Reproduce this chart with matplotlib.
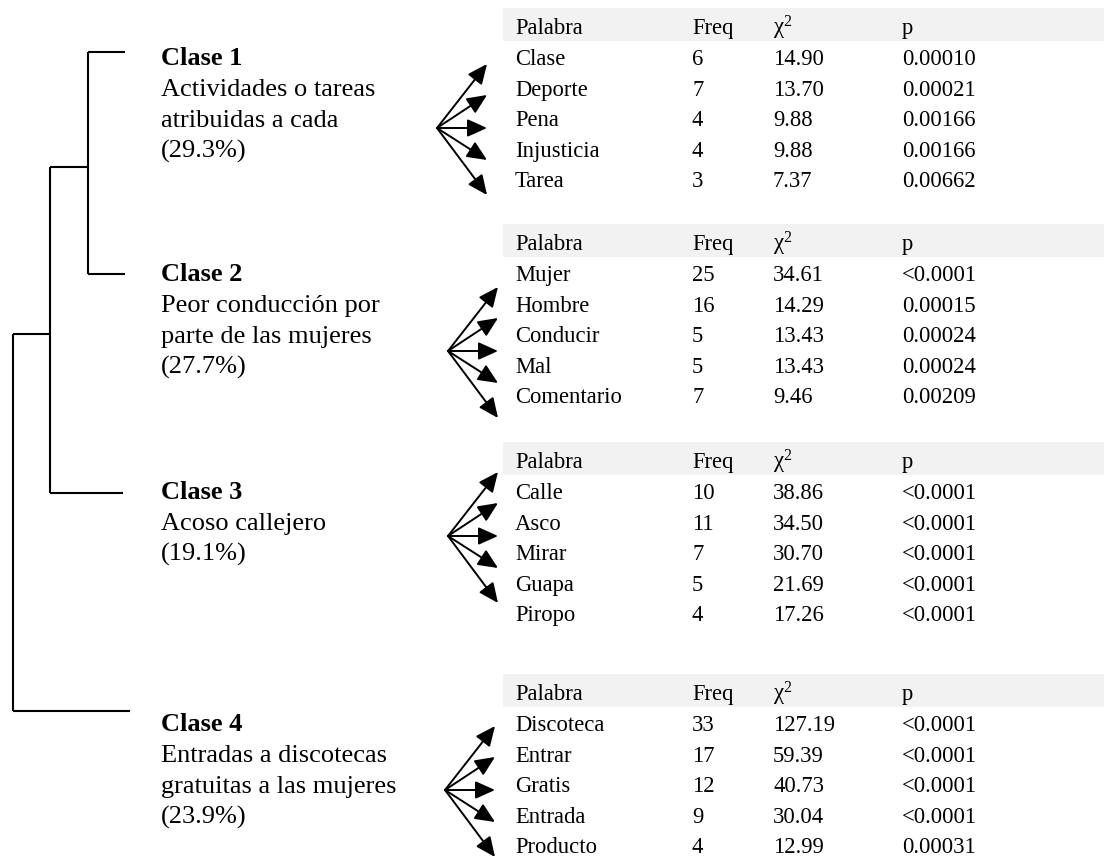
import matplotlib.pyplot as plt
from matplotlib.patches import Rectangle, FancyArrowPatch

plt.rcParams['font.family'] = ['Liberation Serif', 'DejaVu Serif']
plt.rcParams['mathtext.fontset'] = 'custom'
plt.rcParams['mathtext.rm'] = 'Liberation Serif'
plt.rcParams['mathtext.it'] = 'Liberation Serif:italic'

# class descriptions
class_titles = ['Clase 1', 'Clase 2', 'Clase 3', 'Clase 4']
class_lines = [
    ['Actividades o tareas', 'atribuidas a cada', '(29.3%)'],
    ['Peor conducción por', 'parte de las mujeres', '(27.7%)'],
    ['Acoso callejero', '(19.1%)'],
    ['Entradas a discotecas', 'gratuitas a las mujeres', '(23.9%)'],
]

# word tables per class
header = ['Palabra', 'Freq', r'$\mathrm{χ}^{2}$', 'p']
words = [
    ['Clase', 'Deporte', 'Pena', 'Injusticia', 'Tarea'],
    ['Mujer', 'Hombre', 'Conducir', 'Mal', 'Comentario'],
    ['Calle', 'Asco', 'Mirar', 'Guapa', 'Piropo'],
    ['Discoteca', 'Entrar', 'Gratis', 'Entrada', 'Producto'],
]
freq = [
    [6, 7, 4, 4, 3],
    [25, 16, 5, 5, 7],
    [10, 11, 7, 5, 4],
    [33, 17, 12, 9, 4],
]
chi2 = [
    [14.90, 13.70, 9.88, 9.88, 7.37],
    [34.61, 14.29, 13.43, 13.43, 9.46],
    [38.86, 34.50, 30.70, 21.69, 17.26],
    [127.19, 59.39, 40.73, 30.04, 12.99],
]
pvals = [
    ['0.00010', '0.00021', '0.00166', '0.00166', '0.00662'],
    ['<0.0001', '0.00015', '0.00024', '0.00024', '0.00209'],
    ['<0.0001', '<0.0001', '<0.0001', '<0.0001', '<0.0001'],
    ['<0.0001', '<0.0001', '<0.0001', '<0.0001', '0.00031'],
]

# layout (pixel space)
W, H = 1104, 859
label_base = [65, 281, 499, 731]
label_x = 161
line_gap = 31
row_gap = 30.6
col_x = [515, 692, 773, 902]
fan_origin = [(437, 128), (448, 351), (448, 536), (445, 790)]
fan_dy = [-64, -33, 0, 32, 67]
fan_dx = 50

fig = plt.figure(figsize=(W / 100, H / 100), dpi=100)
ax = fig.add_axes([0, 0, 1, 1])
ax.set_xlim(0, W)
ax.set_ylim(H, 0)
ax.axis('off')

# dendrogram
leaf_y = [52, 274, 493, 711]
lw = 1.5
def seg(x0, y0, x1, y1):
    ax.plot([x0, x1], [y0, y1], color='black', lw=lw, solid_capstyle='butt')

j12 = (leaf_y[0] + leaf_y[1]) / 2 + 4
j123 = (j12 + leaf_y[2]) / 2 + 4
seg(88, leaf_y[0], 125, leaf_y[0])
seg(88, leaf_y[1], 125, leaf_y[1])
seg(88, leaf_y[0], 88, leaf_y[1])
seg(50, j12, 88, j12)
seg(50, leaf_y[2], 123, leaf_y[2])
seg(50, j12, 50, leaf_y[2])
seg(13, j123, 50, j123)
seg(13, leaf_y[3], 130, leaf_y[3])
seg(13, j123, 13, leaf_y[3])

for k in range(4):
    b = label_base[k]
    ax.text(label_x, b, class_titles[k], fontsize=19, fontweight='bold', va='baseline', ha='left')
    for i, line in enumerate(class_lines[k]):
        ax.text(label_x, b + line_gap * (i + 1), line, fontsize=19, va='baseline', ha='left')

    # fan of arrows
    ox, oy = fan_origin[k]
    for dy in fan_dy:
        ax.add_patch(FancyArrowPatch((ox, oy), (ox + fan_dx, oy + dy),
                                     arrowstyle='-|>,head_length=1.0,head_width=0.45',
                                     mutation_scale=12, lw=1.4, color='black',
                                     shrinkA=0, shrinkB=0))

    # table
    hb = b - 31
    ax.add_patch(Rectangle((503, hb - 26), W - 503, 33, fc='#f2f2f2', ec='none'))
    for c, h in enumerate(header):
        ax.text(col_x[c], hb, h, fontsize=16.3, va='baseline', ha='left')
    for r in range(len(words[k])):
        y = b + row_gap * r
        vals = [words[k][r], str(freq[k][r]), f'{chi2[k][r]:.2f}', pvals[k][r]]
        for c, v in enumerate(vals):
            ax.text(col_x[c], y, v, fontsize=16.3, va='baseline', ha='left')

fig.savefig('out.png', dpi=100)
